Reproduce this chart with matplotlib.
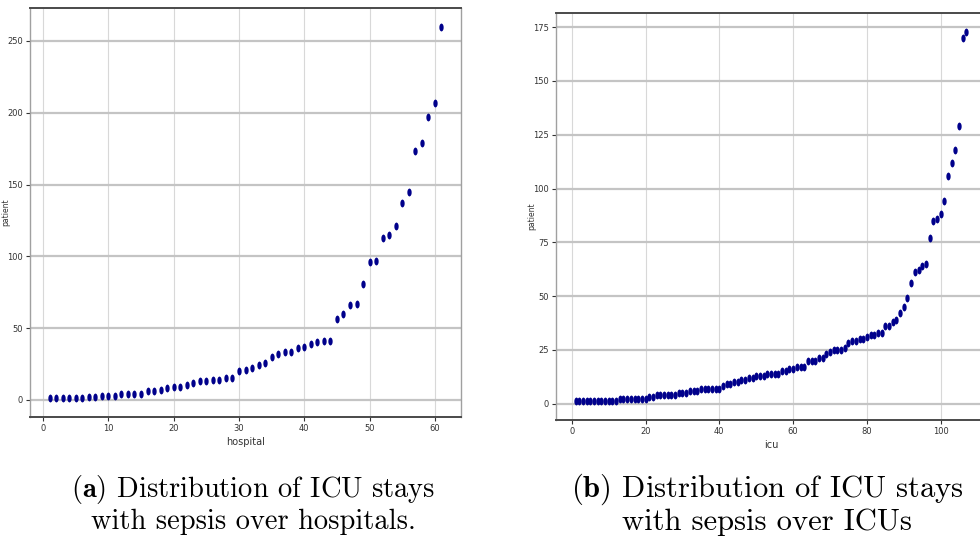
import numpy as np
import matplotlib
matplotlib.use("Agg")
from matplotlib import pyplot as plt
from matplotlib.path import Path

# sepsis ICU stays per hospital, sorted ascending
hospital_counts = [
    1, 1, 1, 1, 1, 1, 2, 2, 3, 3,
    3, 4, 4, 4, 4, 6, 6, 7, 8, 9,
    9, 10, 12, 13, 13, 14, 14, 15, 15, 20,
    21, 22, 24, 26, 30, 32, 33, 33, 36, 37,
    39, 40, 41, 41, 56, 60, 66, 67, 81, 96,
    97, 113, 115, 121, 137, 145, 173, 179, 197, 207,
    260,
]

# sepsis ICU stays per ICU, sorted ascending
icu_counts = [
    1, 1, 1, 1, 1, 1, 1, 1, 1, 1,
    1, 1, 2, 2, 2, 2, 2, 2, 2, 2,
    3, 3, 4, 4, 4, 4, 4, 4, 5, 5,
    5, 6, 6, 6, 7, 7, 7, 7, 7, 7,
    8, 9, 9, 10, 10, 11, 11, 12, 12, 13,
    13, 13, 14, 14, 14, 14, 15, 15, 16, 16,
    17, 17, 17, 20, 20, 20, 21, 21, 23, 24,
    25, 25, 25, 26, 28, 29, 29, 30, 30, 31,
    32, 32, 33, 33, 36, 36, 38, 39, 42, 45,
    49, 56, 61, 62, 64, 65, 77, 85, 86, 88,
    94, 106, 112, 118, 129, 170, 173,
]

captions = [
    (r"$\mathbf{(a)}$ Distribution of ICU stays", "with sepsis over hospitals."),
    (r"$\mathbf{(b)}$ Distribution of ICU stays", "with sepsis over ICUs"),
]

plt.rcParams["mathtext.fontset"] = "cm"

# tall narrow dot marker
circle = Path.unit_circle()
dot = Path(circle.vertices * [0.55, 1.0], circle.codes)

fig = plt.figure(figsize=(9.8, 5.43), dpi=100)
ax1 = fig.add_axes([30 / 980, 126 / 543, 431 / 980, 409 / 543])
ax2 = fig.add_axes([556 / 980, 123 / 543, 430 / 980, 407 / 543])

tick_family = ["Liberation Sans Narrow", "DejaVu Sans"]


def scatter_panel(ax, counts, xlabel, yticks, xticks):
    xs = np.arange(1, len(counts) + 1)
    ax.scatter(xs, counts, marker=dot, s=32, color="#00008b", linewidths=0, zorder=3)
    ax.set_yticks(yticks)
    ax.set_xticks(xticks)
    ax.grid(axis="y", color="#c4c4c4", lw=1.6)
    ax.grid(axis="x", color="#d8d8d8", lw=0.8)
    ax.set_axisbelow(True)
    for side in ["top", "bottom"]:
        ax.spines[side].set_color("#4a4a4a")
        ax.spines[side].set_linewidth(1.4)
    for side in ["left", "right"]:
        ax.spines[side].set_color("#a0a0a0")
        ax.spines[side].set_linewidth(1.0)
    ax.tick_params(length=3, width=0.8, color="#333333", pad=2)
    for lab in ax.get_xticklabels() + ax.get_yticklabels():
        lab.set_fontfamily(tick_family)
        lab.set_fontsize(6)
        lab.set_color("#333333")
    ax.set_xlabel(xlabel, fontfamily=tick_family, fontsize=7, color="#333333", labelpad=3)
    ax.set_ylabel("patient", fontsize=5.5, color="#333333")
    ax.yaxis.set_label_coords(-0.045, 0.5)


scatter_panel(ax1, hospital_counts, "hospital", range(0, 251, 50), range(0, 61, 10))
scatter_panel(ax2, icu_counts, "icu", range(0, 176, 25), range(0, 101, 20))

for cx, size, (line1, line2) in zip([253, 767], [20.5, 22], captions):
    fig.text(cx / 980, 1 - 489 / 543, line1, family="cmr10", fontsize=size,
             ha="center", va="center")
    fig.text(cx / 980, 1 - 522 / 543, line2, family="cmr10", fontsize=size,
             ha="center", va="center")

fig.savefig("out.png", dpi=100)
